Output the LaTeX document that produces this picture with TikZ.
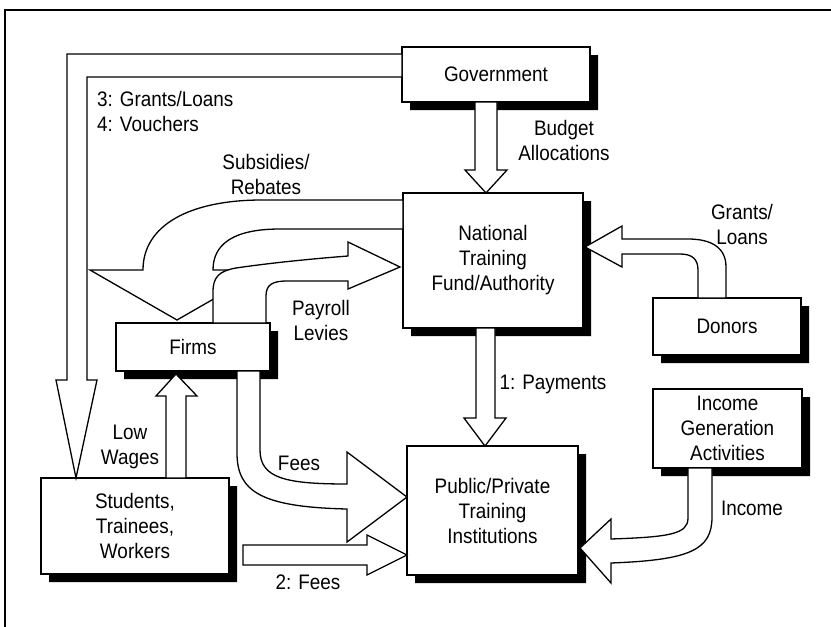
\documentclass[tikz,border=0pt]{standalone}
\usepackage{fontspec}
\setmainfont{Liberation Sans}[FakeStretch=0.9]

% L-shaped black drop shadow along the right and bottom of a box: left, top, right, bottom
\newcommand\dropshadow[4]{%
  \fill[black] ({#3+0.75},{#2+8}) -- ({#3+8},{#2+8}) -- ({#3+8},{#4+8})
    -- ({#1+8},{#4+8}) -- ({#1+8},{#4+0.75}) -- ({#3+0.75},{#4+0.75}) -- cycle;}

\begin{document}
\begin{tikzpicture}[x=1pt,y=-1pt,
  every node/.style={font=\fontsize{21}{25}\selectfont},
  box/.style={draw, fill=white, line width=1.5pt, inner sep=0pt, align=center},
  flow/.style={draw, fill=white, line width=1.3pt, line join=miter},
  lbl/.style={align=center, inner sep=0pt}
]
\useasboundingbox (0,0) rectangle (831,627);
% outer frame
\draw[line width=1.5pt] (5,627) -- (5,10) -- (831,10);

% actors
\node[box, minimum width=188pt, minimum height=55pt]  (gov)    at (496,74.5)  {Government};
\node[box, minimum width=180pt, minimum height=135pt] (ntf)    at (493,260.5) {National\\Training\\Fund/Authority};
\node[box, minimum width=148pt, minimum height=57pt]  (donors) at (727,326.5) {Donors};
\node[box, minimum width=149pt, minimum height=79pt]  (iga)    at (727.5,428.5) {Income\\Generation\\Activities};
\node[box, minimum width=171pt, minimum height=129pt] (inst)   at (492.5,510.5) {Public/Private\\Training\\Institutions};
\node[box, minimum width=154pt, minimum height=48pt]  (firms)  at (193,347)   {Firms};
\node[box, minimum width=188pt, minimum height=96pt]  (stud)   at (135,526)   {Students,\\Trainees,\\Workers};

% their shadows
\dropshadow{402}{47}{590}{102}
\dropshadow{403}{193}{583}{328}
\dropshadow{653}{298}{801}{355}
\dropshadow{653}{389}{802}{468}
\dropshadow{407}{446}{578}{575}
\dropshadow{116}{323}{270}{371}
\dropshadow{41}{478}{229}{574}

% Government -> students (grants/loans, vouchers)
\draw[flow] (402,54) -- (67,54) -- (67,380) -- (56,380) -- (76,478) -- (97,380)
  -- (87,380) -- (87,77) -- (402,77) -- cycle;
% Government -> fund (budget allocations)
\draw[flow] (475,102) -- (475,170) -- (465,170) -- (486,193) -- (507,170) -- (497,170) -- (497,102) -- cycle;
% fund -> firms (subsidies/rebates)
\draw[flow] (403,200) -- (262,200) .. controls (190,200) and (143,225) .. (143,270)
  -- (90,270) -- (177,320) -- (264,270) -- (213,270)
  .. controls (213,245) and (232,229) .. (280,229) -- (403,229) -- cycle;
% firms -> fund (payroll levies)
\draw[flow] (213,323) -- (213,292) .. controls (213,277) and (219,271) .. (236,268)
  .. controls (270,263) and (310,259) .. (348,256) -- (348,242) -- (400,267)
  -- (348,289) -- (348,281) -- (287,281) .. controls (272,281) and (266,285) .. (266,296)
  -- (266,323) -- cycle;
% donors -> fund (grants/loans)
\draw[flow] (726,298) -- (726,267) .. controls (726,248) and (712,239) .. (688,239)
  -- (622,239) -- (622,226) -- (585,247) -- (622,267) -- (622,254) -- (680,254)
  .. controls (692,254) and (698,259) .. (698,270) -- (698,298) -- cycle;
% fund -> institutions (payments)
\draw[flow] (476,328) -- (476,418) -- (464,418) -- (485,446) -- (506,418) -- (495,418) -- (495,328) -- cycle;
% firms -> institutions (fees)
\draw[flow] (237,371) -- (237,453) .. controls (237,492) and (262,507) .. (347,509)
  -- (347,542) -- (407,497) -- (347,452) -- (347,484)
  .. controls (285,484) and (260,478) .. (260,450) -- (260,371) -- cycle;
% students -> institutions (fees)
\draw[flow] (243,545) -- (367,545) -- (367,535) -- (407,555) -- (367,575) -- (367,565) -- (243,565) -- cycle;
% students -> firms (low wages)
\draw[flow] (166,478) -- (166,396) -- (156,396) -- (176,374) -- (197,396) -- (186,396) -- (186,478) -- cycle;
% income generation -> institutions (income)
\draw[flow] (688,468) -- (688,518) .. controls (688,534) and (670,537) .. (611,539)
  -- (611,519) -- (580,548) -- (611,583) -- (611,563)
  .. controls (690,560) and (712,550) .. (712,517) -- (712,468) -- cycle;

% flow labels
\node[lbl, anchor=west, align=left] (gl) at (97,111) {3: Grants/Loans\\4: Vouchers};
\node[lbl] (sr)  at (266,174) {Subsidies/\\Rebates};
\node[lbl] (ba)  at (564,140) {Budget\\Allocations};
\node[lbl] (dl)  at (742,224) {Grants/\\Loans};
\node[lbl] (pl)  at (321,320) {Payroll\\Levies};
\node[lbl] (pay) at (553,384) {1: Payments};
\node[lbl] (lw)  at (130,447) {Low\\Wages};
\node[lbl] (fe)  at (299,463) {Fees};
\node[lbl] (fe2) at (308,582) {2: Fees};
\node[lbl] (inc) at (752,508) {Income};
\end{tikzpicture}
\end{document}
